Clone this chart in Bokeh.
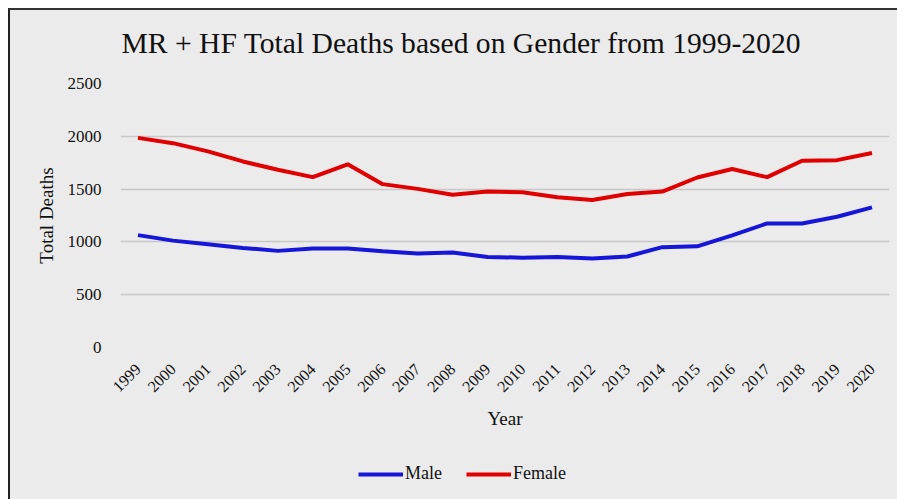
import math
from bokeh.plotting import figure
from bokeh.layouts import column
from bokeh.models import Range1d, FixedTicker, Legend, LegendItem, ColumnDataSource, Label
from bokeh.embed import file_html
from bokeh.resources import INLINE

years = [1999, 2000, 2001, 2002, 2003, 2004, 2005, 2006, 2007, 2008, 2009,
         2010, 2011, 2012, 2013, 2014, 2015, 2016, 2017, 2018, 2019, 2020]
male = [1064, 1012, 978, 943, 915, 937, 937, 911, 890, 899, 857,
        851, 856, 842, 862, 950, 958, 1062, 1175, 1175, 1238, 1327]
female = [1985, 1935, 1857, 1762, 1683, 1613, 1735, 1547, 1502, 1447, 1477,
          1471, 1423, 1397, 1454, 1477, 1610, 1690, 1613, 1768, 1774, 1842]
y_ticks = [0, 500, 1000, 1500, 2000, 2500]
series_names = ["Male", "Female"]
series_colors = ["#1616d8", "#e00000"]
title_text = "MR + HF Total Deaths based on Gender from 1999-2020"

SERIF = "Liberation Serif"
BG = "#ebebeb"
TXT = "#111111"
W = 887


def strip(height):
    f = figure(width=W, height=height, output_backend="svg", toolbar_location=None,
               x_axis_type=None, y_axis_type=None,
               x_range=Range1d(0, 1), y_range=Range1d(0, 1))
    f.background_fill_alpha = 0
    f.border_fill_color = BG
    f.outline_line_color = None
    f.xgrid.visible = False
    f.ygrid.visible = False
    f.min_border_left = 0
    f.min_border_right = 0
    f.min_border_top = 0
    f.min_border_bottom = 0
    return f


# title strip
tt = strip(60)
tt.add_layout(Label(x=1, y=28, x_units="screen", y_units="screen", text=title_text,
                    text_font=SERIF, text_font_size="29.6px", text_color=TXT,
                    text_baseline="alphabetic", text_align="left"))

# main chart
src = ColumnDataSource(dict(year=years, male=male, female=female))

p = figure(width=W, height=385, output_backend="svg", toolbar_location=None,
           x_range=Range1d(1998.5, 2020.5), y_range=Range1d(0, 2500))

p.background_fill_color = BG
p.border_fill_color = BG
p.outline_line_color = None
p.min_border_left = 110
p.min_border_right = 8
p.min_border_top = 13
p.min_border_bottom = 108

p.line("year", "male", source=src, line_color=series_colors[0], line_width=4)
p.line("year", "female", source=src, line_color=series_colors[1], line_width=4)

p.xgrid.visible = False
p.ygrid.grid_line_color = "#c8c8c8"
p.ygrid.grid_line_width = 1.5
p.yaxis.ticker = FixedTicker(ticks=y_ticks)
p.xaxis.ticker = FixedTicker(ticks=years)

for ax in (p.xaxis[0], p.yaxis[0]):
    ax.axis_line_color = None
    ax.major_tick_line_color = None
    ax.minor_tick_line_color = None
    ax.major_label_text_font = SERIF
    ax.major_label_text_color = TXT
    ax.axis_label_text_font = SERIF
    ax.axis_label_text_font_style = "normal"
    ax.axis_label_text_color = TXT
    ax.axis_label_text_font_size = "19px"

p.yaxis.major_label_text_font_size = "17px"
p.yaxis.major_label_standoff = 13
p.yaxis.axis_label = "Total Deaths"
p.yaxis.axis_label_standoff = 8

p.xaxis.major_label_text_font_size = "16px"
p.xaxis.major_label_orientation = math.pi / 4
p.xaxis.major_label_standoff = 13
p.xaxis.axis_label = "Year"
p.xaxis.axis_label_standoff = 8

# legend strip below the chart (frames are aligned with the chart above)
lg = strip(44)
nan = float("nan")
items = []
for name, col in zip(series_names, series_colors):
    r = lg.line(x=[nan], y=[nan], line_color=col, line_width=4)
    items.append(LegendItem(label=name, renderers=[r]))

legend = Legend(items=items, orientation="horizontal", location=(238, 15))
legend.label_text_font = SERIF
legend.label_text_font_size = "18px"
legend.label_text_color = TXT
legend.glyph_width = 45
legend.label_standoff = 2
legend.spacing = 24
legend.padding = 0
legend.margin = 0
legend.border_line_color = None
legend.background_fill_alpha = 0
lg.add_layout(legend, "center")

layout = column(tt, p, lg, spacing=0)
layout.styles = {"margin-left": "8px", "margin-top": "8px",
                 "background-color": BG,
                 "border-left": "2px solid #222", "border-top": "2px solid #333"}

open("out.html", "w").write(file_html(layout, INLINE))
